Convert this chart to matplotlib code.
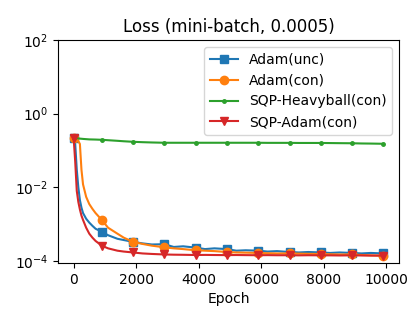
import matplotlib
matplotlib.use("Agg")
import matplotlib.pyplot as plt

epochs = [0, 50, 100, 150, 200, 250, 300, 400, 500, 600, 700, 900, 1100, 1400, 1600,
          1900, 2200, 2500, 2900, 3200, 3500, 3900, 4200, 4500, 4900, 5200, 5500, 5900,
          6200, 6500, 6900, 7200, 7500, 7900, 8200, 8500, 8900, 9200, 9500, 9900]
mark_epochs = [0, 900, 1900, 2900, 3900, 4900, 5900, 6900, 7900, 8900, 9900]

adam_unc = [0.22, 0.15, 0.03, 0.01, 4.5e-3, 2.8e-3, 2.0e-3, 1.4e-3, 1.1e-3, 9e-4, 7.5e-4,
            6.2e-4, 5.0e-4, 4.0e-4, 3.7e-4, 3.3e-4, 3.0e-4, 2.8e-4, 2.85e-4, 2.4e-4, 2.5e-4,
            2.3e-4, 2.1e-4, 2.2e-4, 2.1e-4, 1.9e-4, 1.95e-4, 1.9e-4, 1.8e-4, 1.85e-4, 1.75e-4,
            1.7e-4, 1.75e-4, 1.7e-4, 1.65e-4, 1.7e-4, 1.65e-4, 1.6e-4, 1.65e-4, 1.6e-4]
adam_con = [0.22, 0.2, 0.19, 0.18, 0.15, 0.03, 0.012, 5.5e-3, 3.5e-3, 2.6e-3, 2.0e-3,
            1.3e-3, 8e-4, 5.5e-4, 4.3e-4, 3.3e-4, 2.9e-4, 2.6e-4, 2.35e-4, 2.2e-4, 2.1e-4,
            1.95e-4, 1.9e-4, 1.85e-4, 1.75e-4, 1.7e-4, 1.68e-4, 1.65e-4, 1.62e-4, 1.6e-4,
            1.6e-4, 1.58e-4, 1.56e-4, 1.55e-4, 1.52e-4, 1.5e-4, 1.5e-4, 1.45e-4, 1.42e-4, 1.38e-4]
sqp_hb = [0.22, 0.218, 0.215, 0.213, 0.21, 0.208, 0.206, 0.203, 0.2, 0.199, 0.198,
          0.195, 0.19, 0.183, 0.178, 0.172, 0.168, 0.165, 0.162, 0.162, 0.162,
          0.162, 0.162, 0.162, 0.162, 0.162, 0.162, 0.162, 0.161, 0.161,
          0.161, 0.16, 0.16, 0.16, 0.159, 0.158, 0.157, 0.155, 0.154, 0.152]
sqp_adam = [0.22, 0.05, 8e-3, 4e-3, 2.5e-3, 1.7e-3, 1.3e-3, 8e-4, 5.5e-4, 4.3e-4, 3.5e-4,
            2.6e-4, 2.2e-4, 1.9e-4, 1.8e-4, 1.7e-4, 1.6e-4, 1.55e-4, 1.5e-4, 1.48e-4, 1.47e-4,
            1.45e-4, 1.46e-4, 1.45e-4, 1.44e-4, 1.45e-4, 1.44e-4, 1.43e-4, 1.44e-4, 1.43e-4,
            1.43e-4, 1.42e-4, 1.43e-4, 1.42e-4, 1.42e-4, 1.41e-4, 1.42e-4, 1.41e-4, 1.4e-4, 1.4e-4]

labels = ["Adam(unc)", "Adam(con)", "SQP-Heavyball(con)", "SQP-Adam(con)"]
series = [adam_unc, adam_con, sqp_hb, sqp_adam]
markers = ["s", "o", ".", "v"]
msizes = [6, 6, 5, 6]
colors = ["#1f77b4", "#ff7f0e", "#2ca02c", "#d62728"]

mark_idx = [epochs.index(m) for m in mark_epochs]

fig = plt.figure(figsize=(4.2, 3.2), dpi=100)
ax = fig.add_axes([58/420, 1 - 263/320, (399-58)/420, (263-40)/320])
for ys, lab, mk, ms, c in zip(series, labels, markers, msizes, colors):
    ax.plot(epochs, ys, marker=mk, markersize=ms, markevery=mark_idx, color=c,
            label=lab, linewidth=1.5)
ax.set_yscale("log")
ax.set_ylim(8.8e-5, 1e2)
ax.set_yticks([1e-4, 1e-2, 1e0, 1e2])
ax.minorticks_off()
ax.set_xlim(-500, 10400)
ax.set_xticks([0, 2000, 4000, 6000, 8000, 10000])
ax.set_xlabel("Epoch")
ax.set_title("Loss (mini-batch, 0.0005)")
ax.legend(loc="upper right")
fig.savefig("out.png", dpi=100)
